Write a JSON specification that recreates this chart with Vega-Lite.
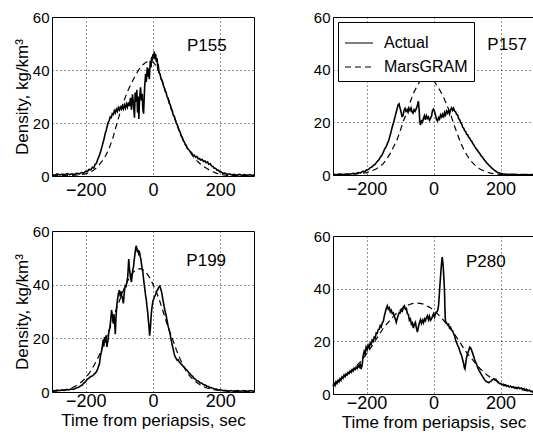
{
  "$schema": "https://vega.github.io/schema/vega-lite/v6.json",
  "padding": {"left": 12, "top": 5, "right": 0, "bottom": 0},
  "bounds": "full",
  "align": "none",
  "spacing": 54,
  "config": {
    "font": "Liberation Sans",
    "view": {"stroke": "black", "strokeWidth": 1},
    "axis": {"domain": false, "ticks": false, "grid": true, "gridColor": "black", "gridDash": [1, 3], "gridWidth": 1, "gridOpacity": 0.85, "labelColor": "black", "titleFontWeight": "normal", "titleColor": "black"},
    "axisY": {"labelFontSize": 15, "titleFontSize": 17, "titlePadding": 1, "labelPadding": 3},
    "axisX": {"labelFontSize": 18, "titleFontSize": 17, "titlePadding": 2, "labelPadding": 5},
    "text": {"font": "Liberation Sans"}
  },
  "resolve": {"legend": {"strokeDash": "independent"}},
  "datasets": {
    "a155": [{"t":-300,"v":0.6},{"t":-292,"v":0.3},{"t":-285,"v":0.8},{"t":-277,"v":0.4},{"t":-270,"v":0.7},{"t":-262,"v":0.5},{"t":-255,"v":0.9},{"t":-248,"v":0.5},{"t":-240,"v":0.8},{"t":-233,"v":0.6},{"t":-226,"v":1.0},{"t":-219,"v":0.8},{"t":-212,"v":1.3},{"t":-206,"v":1.1},{"t":-200,"v":1.8},{"t":-195,"v":1.6},{"t":-190,"v":2.5},{"t":-185,"v":2.3},{"t":-180,"v":3.3},{"t":-176,"v":3.0},{"t":-172,"v":4.4},{"t":-168,"v":4.8},{"t":-164,"v":6.3},{"t":-160,"v":7.6},{"t":-156,"v":9.0},{"t":-152,"v":10.8},{"t":-148,"v":12.8},{"t":-145,"v":14.2},{"t":-142,"v":16.0},{"t":-139,"v":17.2},{"t":-136,"v":18.8},{"t":-133,"v":20.2},{"t":-130,"v":21.0},{"t":-127,"v":22.3},{"t":-124,"v":22.0},{"t":-121,"v":23.5},{"t":-118,"v":23.2},{"t":-115,"v":24.6},{"t":-112,"v":23.8},{"t":-109,"v":25.2},{"t":-106,"v":24.4},{"t":-103,"v":25.8},{"t":-100,"v":24.9},{"t":-97,"v":26.0},{"t":-94,"v":25.2},{"t":-91,"v":26.4},{"t":-88,"v":25.3},{"t":-85,"v":26.8},{"t":-82,"v":25.6},{"t":-79,"v":27.2},{"t":-76,"v":26.0},{"t":-73,"v":27.8},{"t":-70,"v":26.4},{"t":-67,"v":29.5},{"t":-64,"v":25.0},{"t":-61,"v":30.8},{"t":-58,"v":27.0},{"t":-55,"v":22.0},{"t":-53,"v":31.5},{"t":-50,"v":28.0},{"t":-48,"v":32.5},{"t":-46,"v":24.0},{"t":-44,"v":30.0},{"t":-42,"v":21.5},{"t":-40,"v":29.0},{"t":-37,"v":33.5},{"t":-35,"v":28.5},{"t":-32,"v":31.0},{"t":-30,"v":25.0},{"t":-28,"v":23.5},{"t":-25,"v":33.0},{"t":-22,"v":38.5},{"t":-20,"v":35.5},{"t":-17,"v":41.0},{"t":-15,"v":37.5},{"t":-13,"v":40.5},{"t":-11,"v":36.5},{"t":-8,"v":43.5},{"t":-6,"v":41.0},{"t":-4,"v":45.0},{"t":-2,"v":43.5},{"t":0,"v":46.0},{"t":2,"v":44.5},{"t":4,"v":47.0},{"t":6,"v":44.0},{"t":8,"v":46.0},{"t":10,"v":43.0},{"t":12,"v":44.5},{"t":14,"v":41.0},{"t":16,"v":41.5},{"t":18,"v":39.0},{"t":21,"v":38.5},{"t":24,"v":36.5},{"t":27,"v":36.0},{"t":30,"v":34.5},{"t":33,"v":33.5},{"t":36,"v":32.0},{"t":39,"v":31.5},{"t":42,"v":29.8},{"t":45,"v":29.2},{"t":48,"v":27.5},{"t":51,"v":27.0},{"t":54,"v":25.3},{"t":57,"v":24.6},{"t":60,"v":23.0},{"t":63,"v":22.6},{"t":66,"v":21.2},{"t":69,"v":20.0},{"t":72,"v":19.3},{"t":75,"v":18.0},{"t":78,"v":17.2},{"t":81,"v":16.4},{"t":84,"v":15.0},{"t":87,"v":14.6},{"t":90,"v":13.3},{"t":93,"v":12.9},{"t":96,"v":11.8},{"t":99,"v":11.5},{"t":102,"v":10.4},{"t":106,"v":10.0},{"t":110,"v":9.2},{"t":114,"v":8.9},{"t":118,"v":8.0},{"t":122,"v":7.9},{"t":126,"v":7.2},{"t":130,"v":7.4},{"t":134,"v":6.5},{"t":138,"v":6.6},{"t":142,"v":6.0},{"t":146,"v":6.2},{"t":150,"v":5.5},{"t":154,"v":5.7},{"t":158,"v":5.0},{"t":162,"v":5.3},{"t":166,"v":4.4},{"t":170,"v":4.6},{"t":174,"v":3.8},{"t":178,"v":3.6},{"t":182,"v":2.9},{"t":186,"v":2.9},{"t":190,"v":2.2},{"t":194,"v":2.2},{"t":198,"v":1.6},{"t":203,"v":1.5},{"t":208,"v":1.0},{"t":214,"v":1.1},{"t":220,"v":0.6},{"t":227,"v":0.8},{"t":234,"v":0.4},{"t":241,"v":0.6},{"t":248,"v":0.3},{"t":256,"v":0.6},{"t":264,"v":0.3},{"t":272,"v":0.5},{"t":280,"v":0.3},{"t":288,"v":0.5},{"t":296,"v":0.2},{"t":300,"v":0.4}],
    "m155": [{"t":-300,"v":0.1},{"t":-250,"v":0.2},{"t":-220,"v":0.4},{"t":-200,"v":0.8},{"t":-190,"v":1.2},{"t":-180,"v":1.9},{"t":-170,"v":2.8},{"t":-160,"v":4.2},{"t":-150,"v":5.8},{"t":-140,"v":7.8},{"t":-130,"v":10.5},{"t":-120,"v":14.0},{"t":-110,"v":18.5},{"t":-100,"v":23.0},{"t":-90,"v":27.0},{"t":-80,"v":30.5},{"t":-70,"v":33.5},{"t":-60,"v":36.0},{"t":-50,"v":38.5},{"t":-40,"v":40.5},{"t":-30,"v":42.0},{"t":-20,"v":43.0},{"t":-10,"v":43.3},{"t":0,"v":43.0},{"t":10,"v":41.5},{"t":20,"v":38.5},{"t":30,"v":35.0},{"t":40,"v":31.0},{"t":50,"v":27.5},{"t":60,"v":23.5},{"t":70,"v":20.0},{"t":80,"v":16.5},{"t":90,"v":13.5},{"t":100,"v":11.0},{"t":110,"v":9.0},{"t":120,"v":7.2},{"t":130,"v":5.8},{"t":140,"v":4.6},{"t":150,"v":3.6},{"t":160,"v":2.8},{"t":170,"v":2.1},{"t":180,"v":1.5},{"t":190,"v":1.0},{"t":200,"v":0.6},{"t":220,"v":0.2},{"t":300,"v":0.1}],
    "a157": [{"t":-300,"v":0.3},{"t":-290,"v":0.1},{"t":-280,"v":0.4},{"t":-270,"v":0.2},{"t":-260,"v":0.4},{"t":-250,"v":0.3},{"t":-240,"v":0.6},{"t":-232,"v":0.5},{"t":-225,"v":0.9},{"t":-218,"v":0.8},{"t":-211,"v":1.4},{"t":-205,"v":1.3},{"t":-199,"v":2.0},{"t":-194,"v":2.1},{"t":-189,"v":2.8},{"t":-184,"v":3.0},{"t":-179,"v":3.7},{"t":-174,"v":4.1},{"t":-169,"v":5.0},{"t":-164,"v":5.6},{"t":-159,"v":6.7},{"t":-154,"v":7.5},{"t":-150,"v":8.6},{"t":-146,"v":9.8},{"t":-142,"v":10.6},{"t":-138,"v":11.8},{"t":-134,"v":13.0},{"t":-130,"v":14.8},{"t":-127,"v":16.2},{"t":-124,"v":17.8},{"t":-121,"v":19.2},{"t":-118,"v":20.5},{"t":-115,"v":22.0},{"t":-112,"v":23.5},{"t":-109,"v":25.0},{"t":-106,"v":26.5},{"t":-103,"v":27.0},{"t":-100,"v":25.5},{"t":-97,"v":24.0},{"t":-94,"v":22.3},{"t":-91,"v":22.5},{"t":-88,"v":24.5},{"t":-85,"v":25.3},{"t":-82,"v":24.2},{"t":-79,"v":24.8},{"t":-76,"v":23.8},{"t":-73,"v":25.2},{"t":-70,"v":24.5},{"t":-67,"v":25.5},{"t":-64,"v":24.0},{"t":-61,"v":23.5},{"t":-58,"v":24.8},{"t":-55,"v":24.2},{"t":-52,"v":25.0},{"t":-49,"v":26.0},{"t":-47,"v":27.0},{"t":-45,"v":28.0},{"t":-43,"v":25.0},{"t":-41,"v":20.5},{"t":-39,"v":19.0},{"t":-36,"v":20.5},{"t":-33,"v":20.0},{"t":-30,"v":21.5},{"t":-27,"v":22.5},{"t":-24,"v":21.0},{"t":-21,"v":22.5},{"t":-18,"v":21.5},{"t":-15,"v":22.0},{"t":-12,"v":20.8},{"t":-9,"v":21.5},{"t":-6,"v":22.3},{"t":-3,"v":24.5},{"t":0,"v":25.0},{"t":3,"v":24.0},{"t":6,"v":22.8},{"t":9,"v":21.0},{"t":12,"v":20.5},{"t":15,"v":21.8},{"t":18,"v":21.2},{"t":21,"v":22.8},{"t":24,"v":22.0},{"t":27,"v":23.0},{"t":30,"v":21.8},{"t":33,"v":23.8},{"t":36,"v":22.8},{"t":39,"v":24.3},{"t":42,"v":23.5},{"t":45,"v":24.5},{"t":48,"v":23.2},{"t":51,"v":24.8},{"t":54,"v":25.5},{"t":57,"v":24.5},{"t":60,"v":25.3},{"t":63,"v":24.3},{"t":66,"v":24.0},{"t":69,"v":23.0},{"t":72,"v":22.8},{"t":75,"v":21.5},{"t":78,"v":21.0},{"t":81,"v":19.8},{"t":84,"v":19.5},{"t":87,"v":18.2},{"t":90,"v":17.8},{"t":93,"v":16.8},{"t":96,"v":16.5},{"t":99,"v":15.4},{"t":102,"v":15.3},{"t":105,"v":14.3},{"t":108,"v":14.0},{"t":111,"v":13.2},{"t":114,"v":12.8},{"t":117,"v":12.0},{"t":120,"v":11.5},{"t":123,"v":10.8},{"t":126,"v":10.2},{"t":130,"v":9.6},{"t":134,"v":8.8},{"t":138,"v":8.2},{"t":142,"v":7.3},{"t":146,"v":6.8},{"t":150,"v":6.0},{"t":154,"v":5.4},{"t":158,"v":4.7},{"t":162,"v":4.2},{"t":166,"v":3.6},{"t":170,"v":3.2},{"t":174,"v":2.6},{"t":178,"v":2.2},{"t":182,"v":1.8},{"t":186,"v":1.4},{"t":190,"v":1.1},{"t":195,"v":0.8},{"t":200,"v":0.6},{"t":207,"v":0.4},{"t":215,"v":0.3},{"t":225,"v":0.2},{"t":240,"v":0.3},{"t":255,"v":0.1},{"t":270,"v":0.2},{"t":285,"v":0.1},{"t":300,"v":0.2}],
    "m157": [{"t":-300,"v":0.1},{"t":-250,"v":0.2},{"t":-220,"v":0.5},{"t":-200,"v":0.9},{"t":-190,"v":1.3},{"t":-180,"v":1.8},{"t":-170,"v":2.4},{"t":-160,"v":3.2},{"t":-150,"v":4.3},{"t":-140,"v":6.0},{"t":-130,"v":8.0},{"t":-120,"v":10.5},{"t":-110,"v":13.0},{"t":-100,"v":16.5},{"t":-90,"v":20.5},{"t":-80,"v":23.5},{"t":-70,"v":27.5},{"t":-60,"v":31.0},{"t":-50,"v":33.5},{"t":-40,"v":35.7},{"t":-30,"v":37.0},{"t":-20,"v":37.5},{"t":-10,"v":37.0},{"t":0,"v":36.0},{"t":10,"v":34.0},{"t":20,"v":32.0},{"t":30,"v":29.5},{"t":40,"v":26.5},{"t":50,"v":23.5},{"t":60,"v":19.5},{"t":70,"v":16.0},{"t":80,"v":12.5},{"t":90,"v":9.8},{"t":100,"v":7.5},{"t":110,"v":5.6},{"t":120,"v":4.2},{"t":130,"v":3.0},{"t":140,"v":2.2},{"t":150,"v":1.6},{"t":160,"v":1.1},{"t":170,"v":0.7},{"t":180,"v":0.5},{"t":200,"v":0.2},{"t":250,"v":0.1},{"t":300,"v":0.1}],
    "a199": [{"t":-300,"v":0.6},{"t":-292,"v":0.4},{"t":-285,"v":0.7},{"t":-278,"v":0.5},{"t":-271,"v":0.8},{"t":-264,"v":0.6},{"t":-257,"v":0.9},{"t":-250,"v":0.8},{"t":-243,"v":1.1},{"t":-236,"v":1.0},{"t":-229,"v":1.5},{"t":-222,"v":1.7},{"t":-215,"v":2.3},{"t":-210,"v":2.6},{"t":-205,"v":3.4},{"t":-200,"v":3.9},{"t":-195,"v":4.8},{"t":-190,"v":5.2},{"t":-185,"v":5.8},{"t":-180,"v":6.0},{"t":-175,"v":6.6},{"t":-170,"v":7.2},{"t":-166,"v":8.0},{"t":-162,"v":9.5},{"t":-159,"v":10.5},{"t":-156,"v":13.5},{"t":-153,"v":15.0},{"t":-150,"v":17.5},{"t":-148,"v":19.5},{"t":-146,"v":17.0},{"t":-144,"v":20.5},{"t":-142,"v":18.5},{"t":-140,"v":21.0},{"t":-137,"v":16.8},{"t":-134,"v":19.0},{"t":-131,"v":22.5},{"t":-128,"v":24.0},{"t":-125,"v":27.5},{"t":-123,"v":30.5},{"t":-120,"v":28.0},{"t":-118,"v":25.5},{"t":-116,"v":29.0},{"t":-114,"v":26.0},{"t":-112,"v":21.5},{"t":-110,"v":27.5},{"t":-108,"v":31.5},{"t":-106,"v":34.0},{"t":-103,"v":36.5},{"t":-100,"v":38.0},{"t":-97,"v":35.5},{"t":-95,"v":37.5},{"t":-93,"v":36.0},{"t":-90,"v":34.5},{"t":-88,"v":33.0},{"t":-86,"v":36.0},{"t":-84,"v":38.5},{"t":-82,"v":40.0},{"t":-80,"v":39.0},{"t":-77,"v":41.5},{"t":-75,"v":43.0},{"t":-73,"v":47.5},{"t":-72,"v":49.5},{"t":-70,"v":46.0},{"t":-68,"v":44.0},{"t":-66,"v":42.0},{"t":-64,"v":41.0},{"t":-62,"v":43.5},{"t":-60,"v":45.5},{"t":-58,"v":46.5},{"t":-56,"v":49.0},{"t":-54,"v":51.0},{"t":-52,"v":53.0},{"t":-50,"v":54.5},{"t":-48,"v":53.5},{"t":-46,"v":52.0},{"t":-44,"v":53.0},{"t":-42,"v":51.5},{"t":-40,"v":52.0},{"t":-38,"v":50.5},{"t":-36,"v":49.5},{"t":-34,"v":47.5},{"t":-32,"v":46.0},{"t":-30,"v":44.5},{"t":-28,"v":42.0},{"t":-26,"v":40.0},{"t":-24,"v":38.0},{"t":-22,"v":36.0},{"t":-20,"v":34.5},{"t":-18,"v":32.0},{"t":-16,"v":30.0},{"t":-14,"v":27.0},{"t":-12,"v":24.5},{"t":-10,"v":21.0},{"t":-8,"v":23.5},{"t":-6,"v":27.5},{"t":-4,"v":30.5},{"t":-2,"v":32.5},{"t":0,"v":34.0},{"t":2,"v":34.5},{"t":4,"v":35.5},{"t":6,"v":35.8},{"t":8,"v":36.5},{"t":10,"v":37.2},{"t":12,"v":37.8},{"t":14,"v":38.0},{"t":16,"v":38.8},{"t":18,"v":39.2},{"t":20,"v":39.5},{"t":22,"v":38.8},{"t":24,"v":38.0},{"t":26,"v":37.0},{"t":28,"v":35.5},{"t":30,"v":34.0},{"t":33,"v":32.0},{"t":36,"v":30.0},{"t":39,"v":28.5},{"t":42,"v":26.5},{"t":45,"v":24.5},{"t":48,"v":23.0},{"t":51,"v":21.5},{"t":54,"v":19.5},{"t":57,"v":17.5},{"t":60,"v":16.0},{"t":63,"v":14.2},{"t":66,"v":13.0},{"t":69,"v":12.5},{"t":72,"v":11.8},{"t":75,"v":12.0},{"t":78,"v":11.2},{"t":81,"v":10.8},{"t":84,"v":10.4},{"t":87,"v":10.0},{"t":90,"v":9.5},{"t":94,"v":9.0},{"t":98,"v":8.4},{"t":102,"v":8.0},{"t":106,"v":7.2},{"t":110,"v":6.8},{"t":114,"v":6.2},{"t":118,"v":5.8},{"t":122,"v":5.0},{"t":126,"v":4.8},{"t":130,"v":4.2},{"t":135,"v":4.0},{"t":140,"v":3.4},{"t":145,"v":3.3},{"t":150,"v":2.7},{"t":155,"v":2.6},{"t":160,"v":2.1},{"t":165,"v":2.0},{"t":170,"v":1.6},{"t":176,"v":1.5},{"t":182,"v":1.1},{"t":188,"v":1.1},{"t":194,"v":0.7},{"t":200,"v":0.8},{"t":208,"v":0.5},{"t":216,"v":0.6},{"t":224,"v":0.3},{"t":232,"v":0.5},{"t":240,"v":0.3},{"t":250,"v":0.5},{"t":260,"v":0.3},{"t":270,"v":0.5},{"t":280,"v":0.3},{"t":290,"v":0.5},{"t":300,"v":0.3}],
    "m199": [{"t":-300,"v":0.2},{"t":-280,"v":0.4},{"t":-260,"v":0.8},{"t":-240,"v":1.6},{"t":-230,"v":2.2},{"t":-220,"v":3.0},{"t":-210,"v":4.0},{"t":-200,"v":5.3},{"t":-190,"v":6.9},{"t":-180,"v":8.8},{"t":-170,"v":11.1},{"t":-160,"v":13.6},{"t":-150,"v":16.6},{"t":-140,"v":19.8},{"t":-130,"v":23.2},{"t":-120,"v":26.8},{"t":-110,"v":30.5},{"t":-100,"v":33.9},{"t":-90,"v":37.3},{"t":-80,"v":40.2},{"t":-70,"v":42.6},{"t":-60,"v":44.5},{"t":-50,"v":45.6},{"t":-40,"v":46.0},{"t":-30,"v":45.6},{"t":-20,"v":44.5},{"t":-10,"v":42.6},{"t":0,"v":40.2},{"t":10,"v":37.3},{"t":20,"v":33.9},{"t":30,"v":30.0},{"t":40,"v":26.0},{"t":50,"v":22.5},{"t":60,"v":19.0},{"t":70,"v":15.5},{"t":80,"v":12.5},{"t":90,"v":9.8},{"t":100,"v":7.5},{"t":110,"v":5.8},{"t":120,"v":4.5},{"t":130,"v":3.5},{"t":140,"v":2.7},{"t":150,"v":2.0},{"t":160,"v":1.5},{"t":180,"v":0.9},{"t":200,"v":0.5},{"t":240,"v":0.2},{"t":300,"v":0.1}],
    "a280": [{"t":-300,"v":3.0},{"t":-297,"v":4.0},{"t":-294,"v":3.2},{"t":-291,"v":4.6},{"t":-288,"v":4.0},{"t":-285,"v":5.2},{"t":-282,"v":4.6},{"t":-279,"v":5.8},{"t":-276,"v":5.2},{"t":-273,"v":6.5},{"t":-270,"v":6.0},{"t":-267,"v":7.2},{"t":-264,"v":6.6},{"t":-261,"v":7.6},{"t":-258,"v":7.2},{"t":-255,"v":8.2},{"t":-252,"v":7.8},{"t":-249,"v":8.7},{"t":-246,"v":8.2},{"t":-243,"v":9.2},{"t":-240,"v":8.7},{"t":-237,"v":9.8},{"t":-234,"v":9.3},{"t":-231,"v":10.2},{"t":-228,"v":9.7},{"t":-225,"v":10.8},{"t":-222,"v":10.2},{"t":-219,"v":11.3},{"t":-216,"v":9.5},{"t":-213,"v":11.0},{"t":-210,"v":14.5},{"t":-207,"v":16.2},{"t":-204,"v":15.2},{"t":-201,"v":17.8},{"t":-198,"v":16.8},{"t":-195,"v":18.5},{"t":-192,"v":17.6},{"t":-189,"v":19.3},{"t":-186,"v":18.8},{"t":-183,"v":20.5},{"t":-180,"v":20.0},{"t":-177,"v":21.6},{"t":-174,"v":21.2},{"t":-171,"v":23.2},{"t":-168,"v":23.0},{"t":-165,"v":24.5},{"t":-162,"v":24.6},{"t":-159,"v":26.0},{"t":-156,"v":25.5},{"t":-153,"v":27.0},{"t":-150,"v":27.5},{"t":-147,"v":29.5},{"t":-144,"v":31.0},{"t":-141,"v":32.5},{"t":-138,"v":33.5},{"t":-135,"v":32.2},{"t":-132,"v":32.8},{"t":-129,"v":31.2},{"t":-126,"v":31.8},{"t":-123,"v":30.5},{"t":-120,"v":30.8},{"t":-117,"v":29.5},{"t":-114,"v":28.5},{"t":-111,"v":27.2},{"t":-108,"v":28.8},{"t":-105,"v":30.0},{"t":-102,"v":31.0},{"t":-99,"v":30.8},{"t":-96,"v":32.0},{"t":-93,"v":31.5},{"t":-90,"v":33.0},{"t":-87,"v":33.5},{"t":-84,"v":32.2},{"t":-81,"v":32.5},{"t":-78,"v":30.5},{"t":-75,"v":30.2},{"t":-72,"v":28.0},{"t":-69,"v":28.5},{"t":-66,"v":26.5},{"t":-63,"v":27.0},{"t":-60,"v":25.0},{"t":-57,"v":26.5},{"t":-54,"v":27.2},{"t":-51,"v":25.0},{"t":-48,"v":23.5},{"t":-45,"v":25.5},{"t":-42,"v":27.0},{"t":-39,"v":28.2},{"t":-36,"v":26.8},{"t":-33,"v":28.0},{"t":-30,"v":27.0},{"t":-27,"v":28.5},{"t":-24,"v":27.8},{"t":-21,"v":29.0},{"t":-18,"v":29.8},{"t":-15,"v":28.2},{"t":-12,"v":29.5},{"t":-9,"v":28.0},{"t":-6,"v":28.5},{"t":-3,"v":29.5},{"t":0,"v":30.5},{"t":3,"v":29.2},{"t":6,"v":30.5},{"t":9,"v":31.0},{"t":12,"v":31.5},{"t":15,"v":33.5},{"t":17,"v":37.0},{"t":19,"v":41.0},{"t":21,"v":44.5},{"t":23,"v":48.0},{"t":25,"v":51.0},{"t":26,"v":52.0},{"t":27,"v":51.0},{"t":29,"v":48.5},{"t":31,"v":44.0},{"t":33,"v":38.5},{"t":34,"v":33.0},{"t":35,"v":29.0},{"t":36,"v":27.5},{"t":39,"v":27.0},{"t":42,"v":26.2},{"t":45,"v":26.5},{"t":48,"v":25.0},{"t":51,"v":25.3},{"t":54,"v":24.2},{"t":57,"v":24.0},{"t":60,"v":23.0},{"t":63,"v":22.0},{"t":66,"v":20.5},{"t":69,"v":19.5},{"t":72,"v":18.5},{"t":75,"v":17.8},{"t":78,"v":16.5},{"t":81,"v":15.5},{"t":84,"v":14.5},{"t":87,"v":13.0},{"t":90,"v":11.5},{"t":92,"v":10.0},{"t":94,"v":9.5},{"t":96,"v":11.5},{"t":99,"v":14.0},{"t":102,"v":15.5},{"t":105,"v":16.5},{"t":108,"v":17.8},{"t":111,"v":17.5},{"t":114,"v":16.5},{"t":117,"v":15.5},{"t":120,"v":14.2},{"t":123,"v":13.0},{"t":126,"v":12.0},{"t":129,"v":11.2},{"t":132,"v":10.0},{"t":135,"v":9.2},{"t":138,"v":8.5},{"t":141,"v":7.8},{"t":144,"v":7.2},{"t":147,"v":6.5},{"t":150,"v":6.0},{"t":153,"v":5.3},{"t":156,"v":5.0},{"t":159,"v":4.6},{"t":162,"v":4.5},{"t":165,"v":4.3},{"t":168,"v":4.6},{"t":171,"v":4.8},{"t":174,"v":5.2},{"t":177,"v":5.5},{"t":180,"v":5.8},{"t":183,"v":5.5},{"t":186,"v":5.6},{"t":189,"v":5.0},{"t":192,"v":4.5},{"t":195,"v":4.2},{"t":198,"v":3.9},{"t":201,"v":4.0},{"t":204,"v":3.5},{"t":207,"v":3.6},{"t":210,"v":3.2},{"t":214,"v":3.4},{"t":218,"v":2.9},{"t":222,"v":3.2},{"t":226,"v":2.7},{"t":230,"v":3.0},{"t":234,"v":2.5},{"t":238,"v":2.8},{"t":242,"v":2.3},{"t":246,"v":2.6},{"t":250,"v":2.1},{"t":254,"v":2.5},{"t":258,"v":2.0},{"t":262,"v":2.3},{"t":266,"v":1.8},{"t":270,"v":2.1},{"t":274,"v":1.5},{"t":278,"v":1.8},{"t":282,"v":1.2},{"t":286,"v":1.5},{"t":290,"v":0.9},{"t":294,"v":1.1},{"t":298,"v":0.5},{"t":300,"v":0.7}],
    "m280": [{"t":-300,"v":3.8},{"t":-290,"v":4.6},{"t":-280,"v":5.5},{"t":-270,"v":6.4},{"t":-260,"v":7.4},{"t":-250,"v":8.4},{"t":-240,"v":9.5},{"t":-230,"v":10.7},{"t":-220,"v":12.0},{"t":-210,"v":13.5},{"t":-200,"v":15.2},{"t":-190,"v":17.0},{"t":-180,"v":19.0},{"t":-170,"v":21.0},{"t":-160,"v":23.0},{"t":-150,"v":25.0},{"t":-140,"v":26.5},{"t":-130,"v":28.0},{"t":-120,"v":29.4},{"t":-110,"v":30.7},{"t":-100,"v":31.8},{"t":-90,"v":32.8},{"t":-80,"v":33.5},{"t":-70,"v":34.1},{"t":-60,"v":34.4},{"t":-50,"v":34.5},{"t":-40,"v":34.4},{"t":-30,"v":34.1},{"t":-20,"v":33.5},{"t":-10,"v":32.8},{"t":0,"v":31.8},{"t":10,"v":30.7},{"t":20,"v":29.4},{"t":30,"v":28.0},{"t":40,"v":26.5},{"t":50,"v":25.0},{"t":60,"v":23.2},{"t":70,"v":21.3},{"t":80,"v":19.4},{"t":90,"v":17.4},{"t":100,"v":15.5},{"t":110,"v":14.0},{"t":120,"v":12.5},{"t":130,"v":11.0},{"t":140,"v":9.5},{"t":150,"v":8.3},{"t":160,"v":7.2},{"t":170,"v":6.3},{"t":180,"v":5.5},{"t":190,"v":4.8},{"t":200,"v":4.2},{"t":220,"v":3.2},{"t":250,"v":2.0},{"t":280,"v":1.2},{"t":300,"v":0.8}]
  },
  "hconcat": [
    {
      "vconcat": [
        {
          "width": 202, "height": 159,
          "encoding": {
            "x": {"field": "t", "type": "quantitative", "scale": {"domain": [-300, 300], "nice": false, "zero": false}, "axis": {"values": [-200, 0, 200], "title": null}},
            "y": {"field": "v", "type": "quantitative", "scale": {"domain": [0, 60], "nice": false}, "axis": {"values": [0, 20, 40, 60], "title": "Density, kg/km³"}}
          },
          "layer": [
            {"data": {"name": "m155"}, "mark": {"type": "line", "color": "black", "strokeWidth": 1.2}, "encoding": {"strokeDash": {"datum": "MarsGRAM", "scale": {"domain": ["Actual", "MarsGRAM"], "range": [[1, 0], [6, 4]]}, "legend": null}}},
            {"data": {"name": "a155"}, "mark": {"type": "line", "color": "black", "strokeWidth": 1.6}, "encoding": {"strokeDash": {"datum": "Actual", "scale": {"domain": ["Actual", "MarsGRAM"], "range": [[1, 0], [6, 4]]}, "legend": null}}},
            {"data": {"values": [{"t": 160, "v": 49, "label": "P155"}]}, "mark": {"type": "text", "fontSize": 17, "color": "black"}, "encoding": {"text": {"field": "label"}}}
          ]
        },
        {
          "width": 202, "height": 161,
          "encoding": {
            "x": {"field": "t", "type": "quantitative", "scale": {"domain": [-300, 300], "nice": false, "zero": false}, "axis": {"values": [-200, 0, 200], "title": "Time from periapsis, sec", "labelPadding": 0}},
            "y": {"field": "v", "type": "quantitative", "scale": {"domain": [0, 60], "nice": false}, "axis": {"values": [0, 20, 40, 60], "title": "Density, kg/km³"}}
          },
          "layer": [
            {"data": {"name": "m199"}, "mark": {"type": "line", "color": "black", "strokeWidth": 1.2}, "encoding": {"strokeDash": {"datum": "MarsGRAM", "scale": {"domain": ["Actual", "MarsGRAM"], "range": [[1, 0], [6, 4]]}, "legend": null}}},
            {"data": {"name": "a199"}, "mark": {"type": "line", "color": "black", "strokeWidth": 1.6}, "encoding": {"strokeDash": {"datum": "Actual", "scale": {"domain": ["Actual", "MarsGRAM"], "range": [[1, 0], [6, 4]]}, "legend": null}}},
            {"data": {"values": [{"t": 158, "v": 49, "label": "P199"}]}, "mark": {"type": "text", "fontSize": 17, "color": "black"}, "encoding": {"text": {"field": "label"}}}
          ]
        }
      ],
      "spacing": 55,
      "bounds": "flush",
      "resolve": {"legend": {"strokeDash": "independent"}}
    },
    {
      "title": {"text": " ", "fontSize": 4.5, "offset": 0},
      "vconcat": [
        {
          "width": 201, "height": 158,
          "encoding": {
            "x": {"field": "t", "type": "quantitative", "scale": {"domain": [-300, 300], "nice": false, "zero": false}, "axis": {"values": [-200, 0, 200], "title": null}},
            "y": {"field": "v", "type": "quantitative", "scale": {"domain": [0, 60], "nice": false}, "axis": {"values": [0, 20, 40, 60], "title": null}}
          },
          "layer": [
            {"data": {"name": "m157"}, "mark": {"type": "line", "color": "black", "strokeWidth": 1.2}, "encoding": {"strokeDash": {"datum": "MarsGRAM", "scale": {"domain": ["Actual", "MarsGRAM"], "range": [[1, 0], [6, 4]]}, "legend": {"orient": "top-left", "offset": 5, "title": null, "padding": 6, "strokeColor": "black", "fillColor": "white", "labelFontSize": 16, "labelColor": "black", "symbolType": "stroke", "symbolSize": 784, "symbolStrokeWidth": 1.2, "symbolStrokeColor": "black", "rowPadding": 1, "labelOffset": 10}}}},
            {"data": {"name": "a157"}, "mark": {"type": "line", "color": "black", "strokeWidth": 1.6}, "encoding": {"strokeDash": {"datum": "Actual", "scale": {"domain": ["Actual", "MarsGRAM"], "range": [[1, 0], [6, 4]]}, "legend": {"orient": "top-left", "offset": 5, "title": null, "padding": 6, "strokeColor": "black", "fillColor": "white", "labelFontSize": 16, "labelColor": "black", "symbolType": "stroke", "symbolSize": 784, "symbolStrokeWidth": 1.2, "symbolStrokeColor": "black", "rowPadding": 1, "labelOffset": 10}}}},
            {"data": {"values": [{"t": 220, "v": 49.5, "label": "P157"}]}, "mark": {"type": "text", "fontSize": 17, "color": "black"}, "encoding": {"text": {"field": "label"}}}
          ]
        },
        {
          "width": 201, "height": 158,
          "encoding": {
            "x": {"field": "t", "type": "quantitative", "scale": {"domain": [-300, 300], "nice": false, "zero": false}, "axis": {"values": [-200, 0, 200], "title": "Time from periapsis, sec", "labelPadding": 0}},
            "y": {"field": "v", "type": "quantitative", "scale": {"domain": [0, 60], "nice": false}, "axis": {"values": [0, 20, 40, 60], "title": null}}
          },
          "layer": [
            {"data": {"name": "m280"}, "mark": {"type": "line", "color": "black", "strokeWidth": 1.2}, "encoding": {"strokeDash": {"datum": "MarsGRAM", "scale": {"domain": ["Actual", "MarsGRAM"], "range": [[1, 0], [6, 4]]}, "legend": null}}},
            {"data": {"name": "a280"}, "mark": {"type": "line", "color": "black", "strokeWidth": 1.6}, "encoding": {"strokeDash": {"datum": "Actual", "scale": {"domain": ["Actual", "MarsGRAM"], "range": [[1, 0], [6, 4]]}, "legend": null}}},
            {"data": {"values": [{"t": 156, "v": 50, "label": "P280"}]}, "mark": {"type": "text", "fontSize": 17, "color": "black"}, "encoding": {"text": {"field": "label"}}}
          ]
        }
      ],
      "spacing": 61,
      "bounds": "flush",
      "resolve": {"legend": {"strokeDash": "independent"}}
    }
  ]
}
